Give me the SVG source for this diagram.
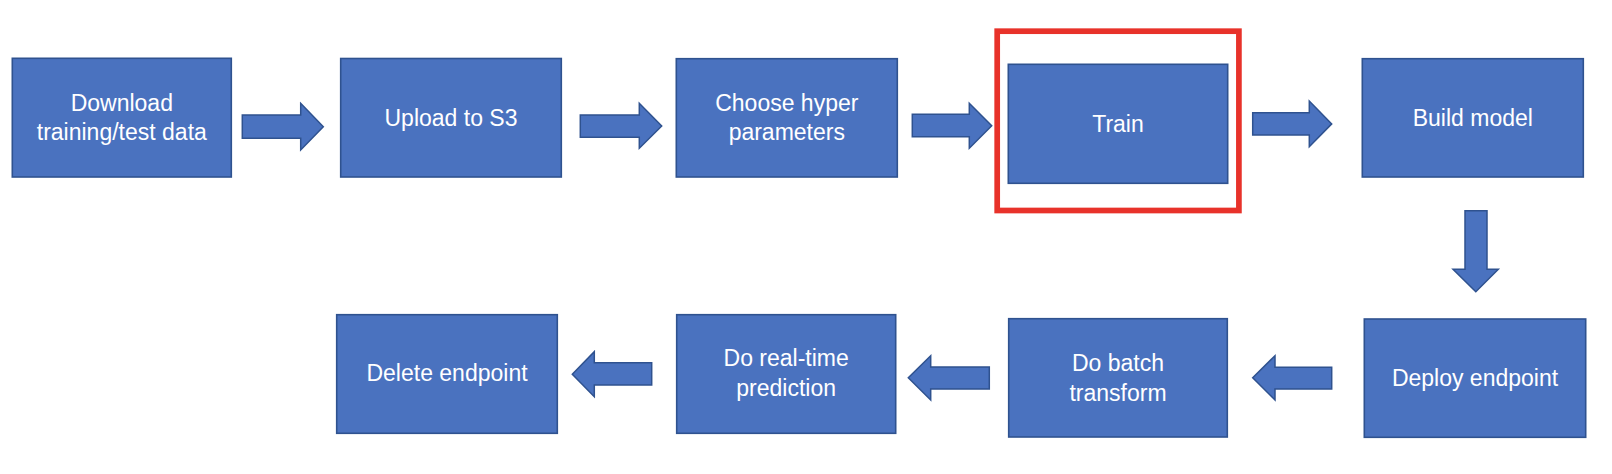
<svg xmlns="http://www.w3.org/2000/svg" width="1612" height="474" viewBox="0 0 1612 474">
<style>
.box{fill:#4A72BF;stroke:#2F528F;stroke-width:1.6}
.arr{fill:#4A72BF;stroke:#2F528F;stroke-width:1.5;stroke-linejoin:miter}
.lbl{font-family:"Liberation Sans",Arial,sans-serif;font-size:23px;fill:#FFFFFF;text-anchor:middle}
.hl{fill:none;stroke:#E8322A;stroke-width:5.7}
</style>
<rect width="1612" height="474" fill="#FFFFFF"/>
<g id="connectors">
<polygon class="arr" points="242.3,115 300.7,115 300.7,103.3 323.3,126.7 300.7,150 300.7,138.3 242.3,138.3"/>
<polygon class="arr" points="580.3,115 639.3,115 639.3,103.3 661.7,126 639.3,148.3 639.3,137.3 580.3,137.3"/>
<polygon class="arr" points="912.3,114.3 969.3,114.3 969.3,103.3 991.7,125.8 969.3,148.3 969.3,136.7 912.3,136.7"/>
<polygon class="arr" points="1252.7,112.7 1309.3,112.7 1309.3,101 1331.7,123.9 1309.3,146.7 1309.3,135 1252.7,135"/>
<polygon class="arr" points="1465,210.7 1487,210.7 1487,269.3 1498.3,269.3 1475.8,291.7 1453,269.3 1465,269.3"/>
<polygon class="arr" points="1331.7,367.3 1275,367.3 1275,355.7 1252.7,377.8 1275,400 1275,389 1331.7,389"/>
<polygon class="arr" points="989.3,367 930.7,367 930.7,355.7 908.3,377.8 930.7,400 930.7,389 989.3,389"/>
<polygon class="arr" points="651.7,362.7 594.3,362.7 594.3,351.7 572.3,374.2 594.3,396.7 594.3,385 651.7,385"/>
</g>
<g id="download">
<rect class="box" x="12.3" y="58.3" width="219" height="118.7"/>
<text class="lbl" x="121.8" y="111">Download</text>
<text class="lbl" x="121.8" y="140">training/test data</text>
</g>
<g id="upload">
<rect class="box" x="340.7" y="58.5" width="220.6" height="118.5"/>
<text class="lbl" x="451" y="126">Upload to S3</text>
</g>
<g id="hyper">
<rect class="box" x="676.3" y="58.7" width="221" height="118.3"/>
<text class="lbl" x="786.8" y="110.7">Choose hyper</text>
<text class="lbl" x="786.8" y="140">parameters</text>
</g>
<g id="train">
<rect class="hl" x="997.2" y="31.2" width="241.7" height="179.3"/>
<rect class="box" x="1008.3" y="64.3" width="219.4" height="119"/>
<text class="lbl" x="1118" y="131.7">Train</text>
</g>
<g id="build">
<rect class="box" x="1362.3" y="58.7" width="221" height="118.3"/>
<text class="lbl" x="1472.8" y="126">Build model</text>
</g>
<g id="deploy">
<rect class="box" x="1364.3" y="319" width="221.4" height="118.3"/>
<text class="lbl" x="1475" y="385.7">Deploy endpoint</text>
</g>
<g id="batch">
<rect class="box" x="1008.7" y="318.7" width="218.6" height="118.3"/>
<text class="lbl" x="1118" y="371">Do batch</text>
<text class="lbl" x="1118" y="400.7">transform</text>
</g>
<g id="realtime">
<rect class="box" x="676.7" y="314.7" width="219" height="118.6"/>
<text class="lbl" x="786.2" y="366">Do real-time</text>
<text class="lbl" x="786.2" y="396">prediction</text>
</g>
<g id="delete">
<rect class="box" x="336.7" y="314.7" width="220.6" height="118.6"/>
<text class="lbl" x="447" y="381">Delete endpoint</text>
</g>
</svg>
